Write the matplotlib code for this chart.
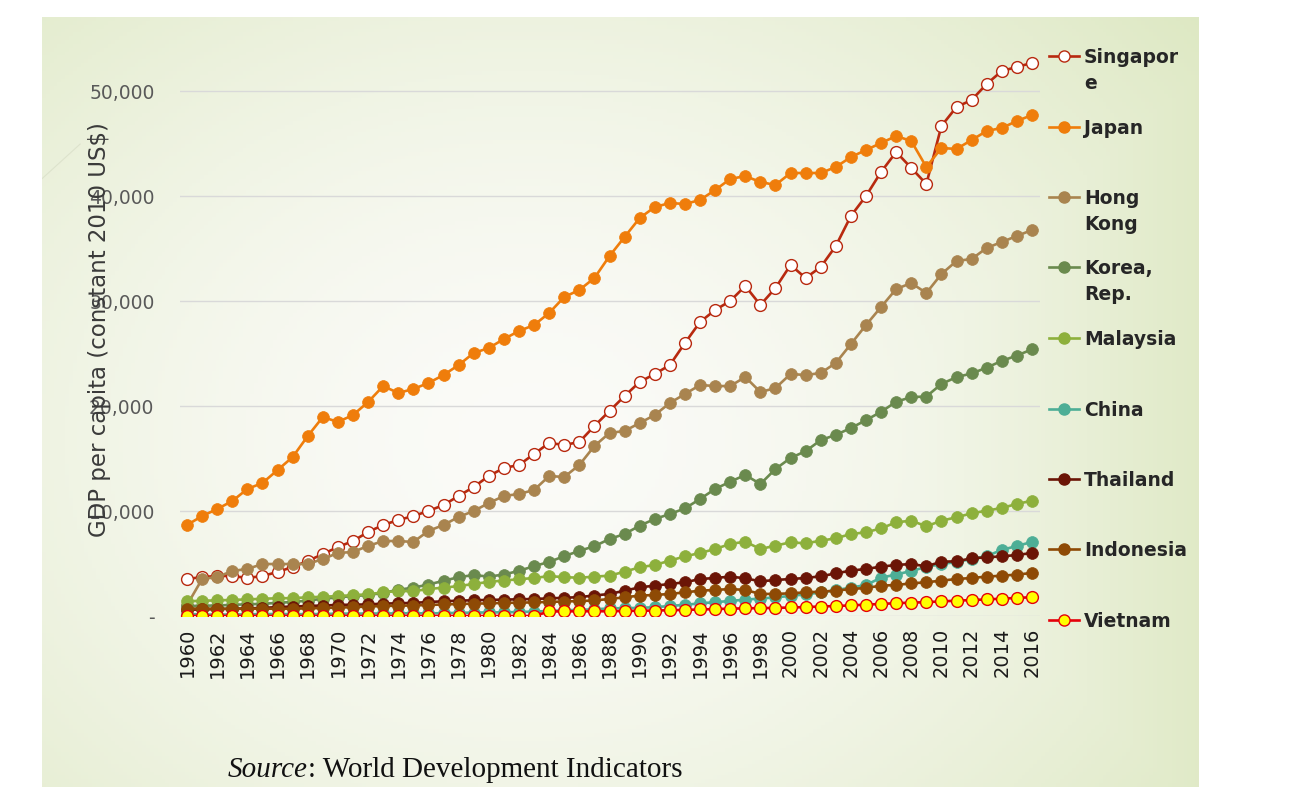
import numpy as np
import matplotlib
matplotlib.use("Agg")
import matplotlib.pyplot as plt
from matplotlib.lines import Line2D

# GDP per capita (constant 2010 US$)
years = list(range(1960, 2017))

singapore = [3520, 3710, 3810, 3810, 3620, 3810, 4190, 4670, 5240, 5900,
             6570, 7140, 8000, 8670, 9140, 9520, 10000, 10570, 11430, 12290,
             13330, 14100, 14380, 15430, 16480, 16290, 16570, 18100, 19520, 20950,
             22290, 23050, 23900, 26000, 28000, 29140, 30000, 31430, 29620, 31240,
             33430, 32190, 33240, 35240, 38100, 40000, 42290, 44190, 42670, 41140,
             46670, 48480, 49140, 50670, 51900, 52290, 52670]
japan = [8670, 9520, 10190, 10950, 12100, 12670, 13900, 15140, 17140, 18950,
         18480, 19140, 20380, 21900, 21240, 21620, 22190, 22950, 23900, 25050,
         25520, 26380, 27140, 27710, 28860, 30380, 31050, 32190, 34280, 36100,
         37900, 38950, 39330, 39240, 39620, 40570, 41620, 41900, 41330, 41050,
         42190, 42190, 42190, 42760, 43710, 44380, 45050, 45710, 45240, 42760,
         44570, 44480, 45330, 46190, 46480, 47140, 47710]
hong_kong = [1050, 3520, 3710, 4290, 4480, 4950, 4950, 4950, 4950, 5430,
             6000, 6100, 6670, 7140, 7140, 7050, 8100, 8670, 9430, 10000,
             10760, 11430, 11620, 12000, 13330, 13240, 14380, 16190, 17430, 17620,
             18380, 19140, 20290, 21140, 22000, 21900, 21900, 22760, 21330, 21710,
             23050, 22950, 23140, 24100, 25900, 27710, 29430, 31140, 31710, 30760,
             32570, 33810, 34000, 35050, 35620, 36190, 36760]
korea = [950, 980, 1000, 1060, 1120, 1150, 1260, 1330, 1470, 1640,
         1770, 1900, 1990, 2200, 2500, 2700, 3000, 3350, 3700, 3900,
         3750, 3950, 4300, 4750, 5150, 5700, 6200, 6650, 7330, 7810,
         8600, 9240, 9710, 10250, 11140, 12100, 12790, 13430, 12570, 14000,
         15050, 15700, 16750, 17250, 17900, 18650, 19450, 20400, 20850, 20900,
         22100, 22750, 23100, 23650, 24300, 24800, 25400]
malaysia = [1400, 1450, 1490, 1530, 1580, 1640, 1690, 1700, 1780, 1830,
            1900, 1980, 2070, 2250, 2380, 2360, 2570, 2700, 2850, 3050,
            3250, 3380, 3500, 3620, 3800, 3700, 3640, 3750, 3840, 4220,
            4640, 4860, 5270, 5680, 6000, 6380, 6860, 7080, 6380, 6700,
            7020, 6920, 7170, 7400, 7810, 7970, 8350, 8920, 9080, 8540,
            9080, 9400, 9780, 10030, 10290, 10670, 10980]
china = [190, 140, 130, 140, 160, 180, 190, 180, 170, 190,
         220, 230, 230, 240, 250, 260, 250, 270, 300, 320,
         340, 350, 380, 420, 480, 540, 580, 640, 720, 750,
         770, 840, 950, 1070, 1200, 1320, 1430, 1560, 1660, 1780,
         1910, 2060, 2240, 2460, 2710, 2950, 3650, 3950, 4290, 4670,
         4950, 5140, 5430, 5710, 6290, 6670, 7050]
thailand = [600, 620, 650, 690, 720, 770, 850, 900, 950, 1000,
            1050, 1080, 1100, 1180, 1210, 1250, 1330, 1400, 1460, 1500,
            1530, 1560, 1590, 1620, 1680, 1730, 1800, 1950, 2100, 2410,
            2730, 2890, 3050, 3210, 3520, 3620, 3750, 3590, 3300, 3430,
            3520, 3620, 3780, 4060, 4320, 4480, 4700, 4860, 4950, 4730,
            5170, 5210, 5490, 5590, 5680, 5810, 6000]
indonesia = [700, 710, 700, 680, 690, 700, 690, 690, 730, 760,
             800, 840, 900, 950, 980, 1000, 1050, 1100, 1140, 1180,
             1200, 1250, 1270, 1300, 1340, 1380, 1420, 1480, 1620, 1780,
             1940, 2000, 2100, 2250, 2410, 2480, 2570, 2480, 2100, 2100,
             2160, 2250, 2320, 2410, 2570, 2670, 2890, 2950, 3110, 3210,
             3370, 3520, 3620, 3750, 3840, 3940, 4100]
vietnam = [0, 0, 0, 0, 0, 0, 0, 0, 0, 0,
           0, 0, 0, 0, 0, 0, 0, 0, 0, 0,
           0, 0, 0, 0, 430, 440, 450, 450, 450, 480,
           500, 520, 550, 580, 620, 660, 700, 730, 750, 770,
           810, 850, 900, 950, 1010, 1080, 1150, 1220, 1270, 1320,
           1390, 1460, 1520, 1580, 1650, 1720, 1790]

series_names = ["Singapor\ne", "Japan", "Hong\nKong", "Korea,\nRep.", "Malaysia",
                "China", "Thailand", "Indonesia", "Vietnam"]
series_values = [singapore, japan, hong_kong, korea, malaysia,
                 china, thailand, indonesia, vietnam]
line_colors = ["#B8290F", "#EF7D0B", "#A9844F", "#6A8A4E", "#8DB03C",
               "#4DAE96", "#6B1506", "#8E4A05", "#E5000A"]
face_colors = ["white", "#EF7D0B", "#A9844F", "#6A8A4E", "#8DB03C",
               "#4DAE96", "#6B1506", "#8E4A05", "#FFFF00"]

W, H = 1314, 804
fig = plt.figure(figsize=(W / 100, H / 100), dpi=100)
fig.patch.set_facecolor("white")

def fx(px):
    return px / W

def fy(py):
    return 1 - py / H

# slide background with a soft green gradient
bg = fig.add_axes([fx(42), fy(788), fx(1198) - fx(42), fy(18) - fy(788)])
bg.set_axis_off()
gx, gy = np.meshgrid(np.linspace(0, 1, 300), np.linspace(0, 1, 200))
d = np.sqrt(((gx - 0.42) / 0.75) ** 2 + ((gy - 0.55) / 0.9) ** 2)
d = np.clip(d, 0, 1) ** 1.6
d = np.maximum(d, np.clip((gx - 0.55) / 0.45, 0, 1) ** 1.5 * 0.9)
c0 = np.array([251, 251, 248]) / 255
c1 = np.array([221, 232, 194]) / 255
img = c0[None, None, :] * (1 - d[..., None]) + c1[None, None, :] * d[..., None]
bg.imshow(img, aspect="auto", extent=[0, 1, 0, 1])
bg.plot([0, 0.033], [0.79, 0.835], color="#dde3cc", lw=0.8)
bg.set_xlim(0, 1)
bg.set_ylim(0, 1)

# chart area
ax = fig.add_axes([fx(179.5), fy(617), fx(1039.5) - fx(179.5), fy(39.5) - fy(617)])
ax.patch.set_alpha(0)
for i, (vals, lc, fc) in enumerate(zip(series_values, line_colors, face_colors)):
    ax.plot(years, vals, color=lc, lw=1.9, marker="o", markersize=8.5,
            markerfacecolor=fc, markeredgecolor=lc,
            markeredgewidth=1.0 if fc in ("white", "#FFFF00") else 0.5,
            zorder=3 + i)

ax.set_xlim(1959.5, 2016.5)
ax.set_ylim(0, 55000)
ax.set_yticks([0, 10000, 20000, 30000, 40000, 50000])
ax.set_yticklabels(["-", "10,000", "20,000", "30,000", "40,000", "50,000"])
ax.set_xticks(years[::2])
ax.set_xticklabels([str(y) for y in years[::2]], rotation=90)
ax.tick_params(axis="y", length=0, pad=18, labelsize=13.5, labelcolor="#595959")
ax.tick_params(axis="x", length=0, pad=8, labelsize=14, labelcolor="#1a1a1a")
ax.grid(axis="y", color="#d9d9d9", lw=1)
ax.set_axisbelow(True)
for s in ax.spines.values():
    s.set_visible(False)

# axis title sits over the tick labels, as on the original slide
fig.text(fx(100), fy(330), "GDP per capita (constant 2010 US$)", rotation=90,
         ha="center", va="center", fontsize=16.5, color="#3a3a3a")

# legend on the right
leg_y = [57, 128, 198, 268, 339, 410, 480, 550, 621]
for name, py, lc, fc in zip(series_names, leg_y, line_colors, face_colors):
    fig.add_artist(Line2D([fx(1049), fx(1079)], [fy(py), fy(py)], color=lc, lw=1.9,
                          transform=fig.transFigure))
    fig.add_artist(Line2D([fx(1064)], [fy(py)], marker="o", markersize=8,
                          markerfacecolor=fc, markeredgecolor=lc, markeredgewidth=1.0,
                          transform=fig.transFigure))
    for k, line in enumerate(name.split("\n")):
        fig.text(fx(1084), fy(py + 6 + 26 * k), line, ha="left", va="baseline",
                 fontsize=13.5, fontweight="bold", color="#262626")

# source note
fig.canvas.draw()
renderer = fig.canvas.get_renderer()
t1 = fig.text(fx(228), fy(777), "Source", fontsize=21, style="italic",
              family="Liberation Serif", color="#111111", va="baseline")
bb = t1.get_window_extent(renderer)
fig.text(bb.x1 / W, fy(777), ": World Development Indicators", fontsize=21,
         family="Liberation Serif", color="#111111", va="baseline")

fig.savefig("out.png", dpi=100, facecolor="white")
